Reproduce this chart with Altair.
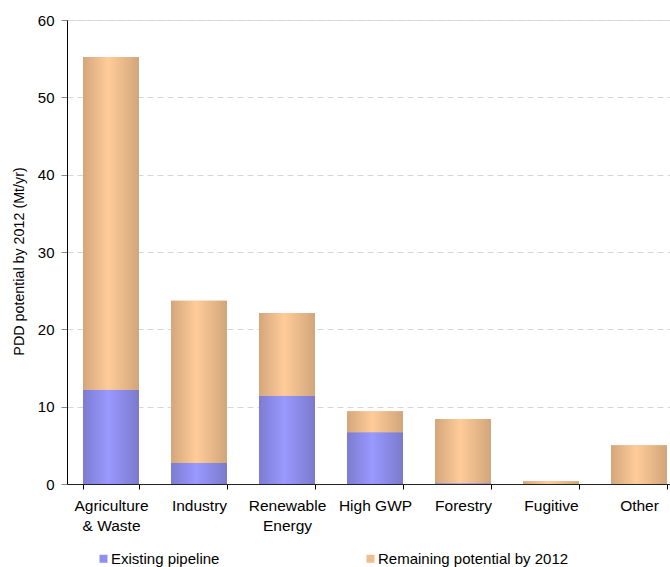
import altair as alt
import pandas as pd

categories = ["Agriculture\n& Waste", "Industry", "Renewable\nEnergy", "High GWP", "Forestry", "Fugitive", "Other"]
existing = [12.2, 2.7, 11.4, 6.7, 0.1, 0.0, 0.0]
remaining = [43.0, 21.0, 10.7, 2.7, 8.3, 0.35, 5.0]
series = ["Existing pipeline", "Remaining potential by 2012"]

wide = pd.DataFrame({"cat": categories, "existing": existing, "remaining": remaining})
wide["total"] = wide["existing"] + wide["remaining"]
long = pd.DataFrame({
    "cat": categories * 2,
    "series": [series[0]] * len(categories) + [series[1]] * len(categories),
    "value": existing + remaining,
    "order": [0] * len(categories) + [1] * len(categories),
})

FONT = "Liberation Sans"
W, H = 603, 464
STEP = 88

def grad(edge, mid, edge2):
    return alt.Gradient(
        gradient="linear",
        stops=[alt.GradientStop(color=edge, offset=0),
               alt.GradientStop(color=mid, offset=0.45),
               alt.GradientStop(color=edge2, offset=1)],
        x1=0, x2=1, y1=0, y2=0,
    )

xscale = alt.Scale(domain=categories, range=[0, STEP * len(categories)],
                   paddingInner=0.364, paddingOuter=0.182)
yscale = alt.Scale(domain=[0, 60], nice=False)

xenc = alt.X("cat:N", scale=xscale, sort=categories, title=None,
             axis=alt.Axis(labelAngle=0, labelExpr="split(datum.label, '\\n')",
                           tickBand="extent", labelFont=FONT, labelFontSize=15.5,
                           labelColor="black", domainColor="#222222", tickColor="black",
                           tickSize=5, labelPadding=9, labelLineHeight=20, grid=False,
                           labelLimit=200))

base_bars = alt.Chart(long).mark_bar().encode(
    x=xenc,
    y=alt.Y("sum(value):Q", scale=yscale, title="PDD potential by 2012 (Mt/yr)",
            axis=alt.Axis(values=[0, 10, 20, 30, 40, 50, 60], grid=True, gridColor="#D6D6D6",
                          gridDash=[6, 4], labelFont=FONT, labelFontSize=15, labelColor="black",
                          titleFont=FONT, titleFontSize=14.3, titleFontWeight="normal",
                          titleColor="black", titleX=-41, titleY=241, domainColor="black",
                          tickColor="#888888", tickSize=6, labelPadding=7)),
    color=alt.Color("series:N", scale=alt.Scale(domain=series, range=["#8F8FF0", "#EEBE8E"]),
                    legend=alt.Legend(title=None, orient="none", direction="horizontal",
                                      legendX=29, legendY=531, symbolType="square",
                                      symbolSize=64, symbolStrokeWidth=0, labelFont=FONT,
                                      labelFontSize=15, labelColor="black", columnPadding=143,
                                      labelOffset=0, labelLimit=300)),
    order=alt.Order("order:Q"),
)

blue = alt.Chart(wide).mark_bar(fill=grad("#7C7CD2", "#9999FF", "#7A7ACC")).encode(
    x=xenc, y=alt.Y("existing:Q", scale=yscale), y2=alt.datum(0))
orange = alt.Chart(wide).mark_bar(fill=grad("#D3A67B", "#FFCC99", "#D1A57A")).encode(
    x=xenc, y=alt.Y("total:Q", scale=yscale), y2="existing:Q")

chart = alt.layer(base_bars, blue, orange).properties(
    width=W, height=H,
    autosize=alt.AutoSizeParams(type="none"),
    padding={"left": 67, "top": 20, "right": 0, "bottom": 83},
).configure_view(stroke=None).configure(background="white")

chart.save("out.html", embed_options={"renderer": "svg", "actions": False})
